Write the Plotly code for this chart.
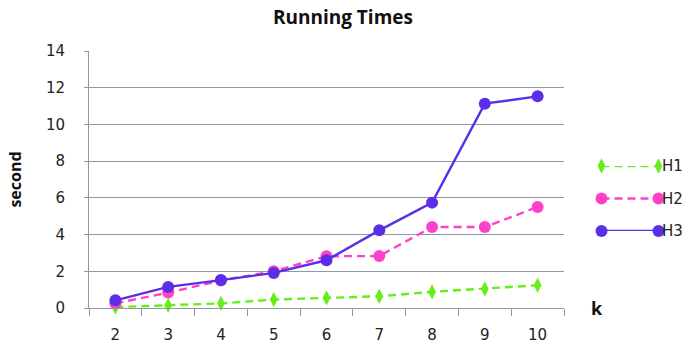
import plotly.graph_objects as go

# Running time (seconds) of three heuristics as k grows
k_values = ["2", "3", "4", "5", "6", "7", "8", "9", "10"]
h1_times = [0.05, 0.15, 0.25, 0.46, 0.55, 0.64, 0.88, 1.04, 1.24]
h2_times = [0.25, 0.84, 1.5, 2.0, 2.82, 2.83, 4.41, 4.41, 5.5]
h3_times = [0.42, 1.15, 1.52, 1.91, 2.6, 4.23, 5.74, 11.13, 11.53]

series_names = ["H1", "H2", "H3"]
series_colors = ["#66EE1A", "#FF40C8", "#5A2FE6"]
series_dash = ["8px,5px", "8px,5px", "solid"]
series_symbols = ["diamond-tall", "circle", "circle"]
series_sizes = [11, 12, 12]

TEXT_FONT = "DejaVu Sans"
BOLD_FONT = "Open Sans"

# Plot-area geometry (pixels) used to place the axes
L, R, T, B = 89, 10, 51, 37
W, H = 690, 345
PW = W - L - R
PH = H - T - B


def px_x(x):
    return (x - L) / PW


def px_y(y):
    return (H - B - y) / PH


fig = go.Figure()

for name, ys, color, dash, sym, size in zip(
    series_names, [h1_times, h2_times, h3_times],
    series_colors, series_dash, series_symbols, series_sizes,
):
    fig.add_trace(go.Scatter(
        x=k_values, y=ys, name=name, mode="lines+markers",
        line=dict(color=color, width=2.4, dash=dash),
        marker=dict(symbol=sym, size=size, color=color, line=dict(width=0)),
        cliponaxis=False, showlegend=False,
    ))

# Hand-built legend: a short sample line with a marker at each end
legend_rows = [2, 1, 0]
for name, row, color, dash, sym, size in zip(
    series_names, legend_rows, series_colors, series_dash, series_symbols, series_sizes,
):
    fig.add_trace(go.Scatter(
        x=[0, 1], y=[row, row], mode="lines+markers",
        line=dict(color=color, width=2.4, dash=dash),
        marker=dict(symbol=sym, size=size, color=color, line=dict(width=0)),
        xaxis="x2", yaxis="y2", cliponaxis=False,
        showlegend=False, hoverinfo="skip",
    ))
    fig.add_annotation(
        x=1, y=row, xref="x2", yref="y2", text=name, showarrow=False,
        xanchor="left", xshift=1, font=dict(family=TEXT_FONT, size=15, color="#222"),
    )

grid_color = "#8E9A9E"

fig.update_layout(
    width=W, height=H,
    margin=dict(l=L, r=R, t=T, b=B),
    paper_bgcolor="white", plot_bgcolor="white",
    title=dict(
        text="<b>Running Times</b>", x=0.497, xanchor="center",
        y=1 - 17 / H, yanchor="middle", automargin=False,
        font=dict(family=BOLD_FONT, size=19, color="#111"),
    ),
    xaxis=dict(
        type="category", range=[-0.5, 8.5], domain=[0, px_x(564)],
        automargin=False,
        showline=True, linecolor=grid_color, linewidth=1,
        ticks="outside", tickson="boundaries", ticklen=7, tickcolor=grid_color,
        showgrid=False, ticklabelstandoff=13,
        tickfont=dict(family=TEXT_FONT, size=15, color="#222"),
    ),
    yaxis=dict(
        range=[0, 14], dtick=2, automargin=False,
        showline=True, linecolor=grid_color, linewidth=1,
        ticks="outside", ticklen=4, tickcolor=grid_color,
        showgrid=True, gridcolor=grid_color, gridwidth=1,
        zeroline=False, ticklabelstandoff=16,
        tickfont=dict(family=TEXT_FONT, size=15, color="#222"),
        title=dict(text="<b>second</b>", standoff=20,
                   font=dict(family=BOLD_FONT, size=16, color="#111")),
    ),
    xaxis2=dict(domain=[px_x(601.5), px_x(658.5)], range=[0, 1],
                visible=False, fixedrange=True),
    yaxis2=dict(domain=[px_y(231), px_y(166)], range=[0, 2],
                visible=False, anchor="x2", fixedrange=True),
)

# Axis name for k placed past the right end of the x axis
fig.add_annotation(
    x=px_x(597), y=0, xref="paper", yref="paper", text="<b>k</b>", showarrow=False,
    xanchor="center", yanchor="middle",
    font=dict(family=BOLD_FONT, size=18, color="#111"),
)

fig.write_html("out.html")
